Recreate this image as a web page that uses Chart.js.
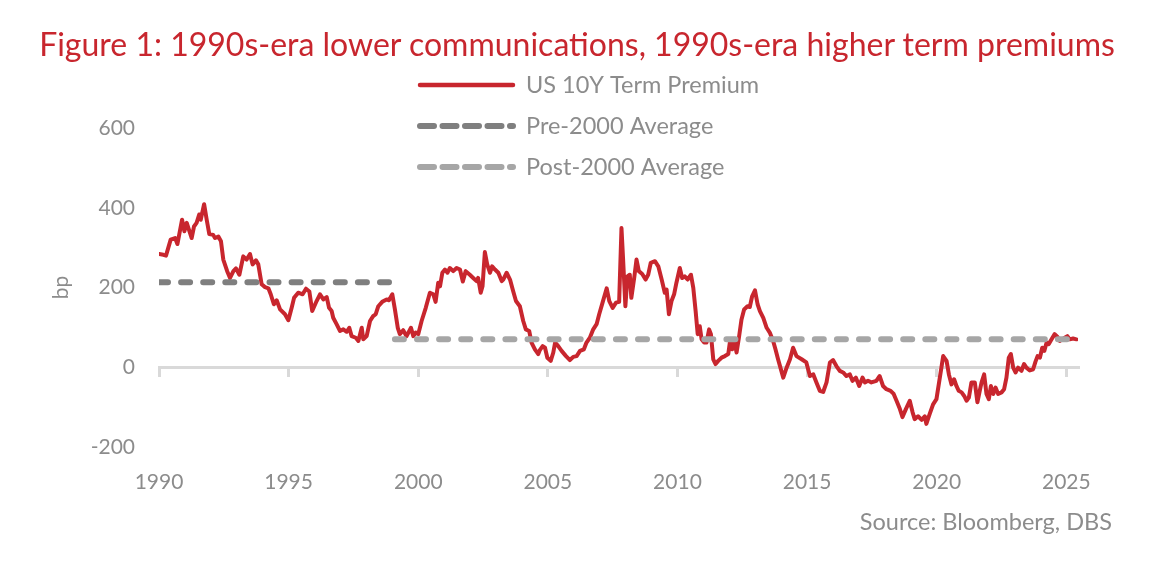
<!DOCTYPE html>
<html>
<head>
<meta charset="utf-8">
<script src="https://cdn.jsdelivr.net/npm/chart.js@4.4.1/dist/chart.umd.min.js"></script>
<style>
  body { margin: 0; background: #fff; font-family: Lato, sans-serif; }
  #wrap { position: relative; width: 1154px; height: 584px; }
  #title { position: absolute; left: 0; right: 0; top: 24px; text-align: center; color: #c8262e; font-size: 32px; white-space: nowrap; }
  #source { position: absolute; right: 42px; top: 507px; color: #8c8c8c; font-size: 23.5px; }
</style>
</head>
<body>
<div id="wrap">
  <canvas id="chart"></canvas>
  <div id="title">Figure 1: 1990s-era lower communications, 1990s-era higher term premiums</div>
  <div id="source">Source: Bloomberg, DBS</div>
</div>
<script>
// US 10Y term premium (bp), dates as decimal years
const dates = [
    1990.00, 1990.17, 1990.27, 1990.45, 1990.62, 1990.71, 1990.89, 1990.98, 1991.07, 1991.26, 1991.35, 1991.45, 1991.55, 1991.61, 1991.74, 1991.84, 1991.94,
    1992.09, 1992.16, 1992.29, 1992.39, 1992.48, 1992.63, 1992.74, 1992.87, 1992.97, 1993.10, 1993.25, 1993.38, 1993.51, 1993.61, 1993.74, 1993.83, 1993.96,
    1994.09, 1994.22, 1994.31, 1994.43, 1994.54, 1994.67, 1994.86, 1994.99, 1995.12, 1995.21, 1995.37, 1995.54, 1995.67, 1995.80, 1995.91,
    1996.08, 1996.21, 1996.34, 1996.47, 1996.56, 1996.66, 1996.72, 1996.85, 1996.98, 1997.11, 1997.24, 1997.34, 1997.43, 1997.59, 1997.69, 1997.82, 1997.88,
    1998.01, 1998.14, 1998.26, 1998.36, 1998.46, 1998.61, 1998.78, 1998.87, 1999.00, 1999.10, 1999.21, 1999.29, 1999.42, 1999.55, 1999.72, 1999.81, 1999.90,
    2000.00, 2000.13, 2000.29, 2000.45, 2000.58, 2000.67, 2000.77, 2000.84, 2000.93, 2001.03, 2001.13, 2001.22, 2001.35, 2001.48, 2001.61, 2001.72, 2001.83, 2001.99,
    2002.12, 2002.25, 2002.31, 2002.41, 2002.48, 2002.57, 2002.66, 2002.77, 2002.85, 2002.96, 2003.09, 2003.22, 2003.28, 2003.41, 2003.54, 2003.66, 2003.77, 2003.92,
    2004.05, 2004.15, 2004.28, 2004.37, 2004.50, 2004.63, 2004.69, 2004.80, 2004.89, 2004.98, 2005.11, 2005.21, 2005.28, 2005.40, 2005.53, 2005.70, 2005.85, 2005.98,
    2006.11, 2006.24, 2006.39, 2006.49, 2006.62, 2006.75, 2006.88, 2006.98, 2007.11, 2007.27, 2007.37, 2007.50, 2007.63, 2007.75, 2007.84, 2007.90, 2007.99,
    2008.07, 2008.16, 2008.22, 2008.33, 2008.42, 2008.51, 2008.64, 2008.77, 2008.87, 2008.97, 2009.13, 2009.26, 2009.39, 2009.51, 2009.58, 2009.67, 2009.77, 2009.87, 2009.96,
    2010.09, 2010.18, 2010.28, 2010.39, 2010.52, 2010.61, 2010.70, 2010.78, 2010.86, 2010.93, 2011.03, 2011.12, 2011.22, 2011.29, 2011.38, 2011.47, 2011.57, 2011.70, 2011.83, 2011.96,
    2012.02, 2012.11, 2012.19, 2012.28, 2012.37, 2012.47, 2012.57, 2012.70, 2012.79, 2012.88, 2012.99, 2013.09, 2013.18, 2013.31, 2013.44, 2013.56, 2013.69, 2013.78, 2013.88,
    2014.08, 2014.21, 2014.34, 2014.46, 2014.59, 2014.79, 2014.97, 2015.11, 2015.24, 2015.36, 2015.49, 2015.62, 2015.75, 2015.88,
    2016.00, 2016.13, 2016.26, 2016.39, 2016.52, 2016.65, 2016.75, 2016.88, 2017.01, 2017.14, 2017.23, 2017.35, 2017.48, 2017.67, 2017.80, 2017.93,
    2018.06, 2018.22, 2018.34, 2018.45, 2018.58, 2018.68, 2018.81, 2018.96, 2019.07, 2019.15, 2019.28, 2019.42, 2019.54, 2019.60, 2019.73, 2019.86, 2019.99,
    2020.12, 2020.25, 2020.38, 2020.47, 2020.57, 2020.67, 2020.76, 2020.85, 2020.96, 2021.06, 2021.15, 2021.24, 2021.34, 2021.47, 2021.57, 2021.66, 2021.73, 2021.83, 2021.92,
    2022.01, 2022.09, 2022.18, 2022.27, 2022.37, 2022.50, 2022.60, 2022.69, 2022.78, 2022.86, 2022.95, 2023.04, 2023.14, 2023.27, 2023.37, 2023.46, 2023.59, 2023.72, 2023.81, 2023.89, 2023.98,
    2024.07, 2024.15, 2024.24, 2024.32, 2024.43, 2024.55, 2024.66, 2024.75, 2024.84, 2024.94, 2025.04, 2025.13, 2025.26, 2025.39
];
const termPremium = [
    284, 282, 280, 320, 324, 309, 370, 341, 362, 324, 353, 362, 383, 370, 409, 370, 334,
    332, 324, 328, 316, 270, 241, 224, 241, 248, 232, 278, 270, 284, 258, 268, 258, 208,
    201, 198, 183, 158, 168, 145, 133, 118, 150, 174, 187, 183, 197, 190, 141,
    166, 183, 170, 176, 149, 141, 124, 108, 91, 95, 89, 99, 78, 74, 66, 99, 70,
    78, 116, 128, 133, 153, 164, 170, 168, 183, 145, 99, 83, 93, 78, 99, 78, 87,
    83, 116, 149, 187, 183, 164, 212, 203, 237, 245, 237, 249, 241, 249, 245, 215, 241, 232,
    224, 216, 224, 187, 203, 289, 258, 237, 253, 245, 237, 216, 220, 237, 220, 191, 166, 153,
    116, 95, 91, 62, 45, 33, 43, 53, 49, 24, 16, 37, 62, 53, 41, 28, 18, 26,
    28, 41, 45, 62, 74, 95, 108, 133, 162, 198, 166, 149, 162, 164, 349, 274, 153,
    228, 232, 174, 224, 270, 241, 234, 220, 232, 262, 266, 253, 220, 187, 195, 133, 166, 183, 212,
    249, 224, 228, 220, 232, 199, 141, 83, 103, 70, 62, 62, 95, 83, 20, 8, 16, 24, 28, 33,
    62, 45, 66, 37, 74, 120, 145, 153, 151, 178, 193, 158, 141, 124, 99, 87, 66, 45, 20,
    -26, -1, 20, 49, 28, 20, 12, -22, -18, -38, -59, -62, -38, 12,
    18, 3, -9, -13, -22, -18, -34, -26, -47, -26, -38, -34, -38, -34, -22, -47,
    -55, -59, -67, -84, -105, -125, -105, -84, -113, -130, -123, -132, -123, -142, -117, -93, -80,
    -26, 28, 16, -18, -43, -30, -47, -59, -63, -72, -84, -76, -38, -38, -88, -59, -38, -18, -67,
    -80, -47, -67, -51, -67, -63, -55, -26, 24, 33, -1, -13, -1, -9, 8, -1, -8, -5, 14, 28, 24,
    49, 41, 62, 58, 70, 83, 76, 66, 70, 74, 78, 70, 72, 70
];

// period averages (bp) and the span each one covers
const preAvgSpan = [1990.0, 1999.0];
const preAvg = 213;
const postAvgSpan = [1999.1, 2025.4];
const postAvg = 70;

const xTicks = [1990, 1995, 2000, 2005, 2010, 2015, 2020, 2025];
const yTicks = [-200, 0, 200, 400, 600];

const GREY_TEXT = '#8c8c8c';
const FONT = 'Lato';

// legend drawn inside the plot, one row per dataset
const insideLegend = {
    id: 'insideLegend',
    afterDraw(chart, args, opts) {
        const ctx = chart.ctx;
        ctx.save();
        ctx.font = opts.font;
        ctx.textBaseline = 'middle';
        chart.data.datasets.forEach((ds, i) => {
            const y = opts.top + i * opts.rowGap;
            ctx.beginPath();
            ctx.setLineDash(ds.legendDash || []);
            ctx.lineCap = 'round';
            ctx.lineWidth = ds.legendWidth || ds.borderWidth;
            ctx.strokeStyle = ds.borderColor;
            ctx.moveTo(opts.left, y);
            ctx.lineTo(opts.left + opts.lineLength, y);
            ctx.stroke();
            ctx.setLineDash([]);
            ctx.fillStyle = opts.color;
            ctx.fillText(ds.label, opts.left + opts.lineLength + opts.gap, y);
        });
        ctx.restore();
    }
};

const setXTicks = scale => {
    scale.ticks = xTicks.map(v => ({ value: v }));
};

new Chart(document.getElementById('chart'), {
    type: 'line',
    data: {
        datasets: [
            {
                label: 'US 10Y Term Premium',
                data: dates.map((d, i) => ({ x: d, y: termPremium[i] })),
                borderColor: '#c8262e',
                borderWidth: 4,
                legendWidth: 4.5,
                borderJoinStyle: 'round',
                borderCapStyle: 'round',
                pointRadius: 0,
                tension: 0,
                order: 2,
            },
            {
                label: 'Pre-2000 Average',
                data: preAvgSpan.map(d => ({ x: d, y: preAvg })),
                borderColor: '#7f7f7f',
                borderWidth: 6,
                borderDash: [9, 13.1],
                legendDash: [14, 8.5],
                borderCapStyle: 'round',
                pointRadius: 0,
                order: 1,
            },
            {
                label: 'Post-2000 Average',
                data: postAvgSpan.map(d => ({ x: d, y: postAvg })),
                borderColor: '#a6a6a6',
                borderWidth: 6,
                borderDash: [9, 13.1],
                legendDash: [14, 8.5],
                borderCapStyle: 'round',
                pointRadius: 0,
                order: 0,
            }
        ]
    },
    options: {
        responsive: true,
        maintainAspectRatio: false,
        animation: false,
        layout: { padding: { left: 40, right: 76, top: 128, bottom: 77 } },
        scales: {
            x: {
                type: 'linear',
                min: 1990,
                max: 2025.45,
                position: { y: 0 },
                afterBuildTicks: setXTicks,
                ticks: { display: false },
                grid: { display: true, drawOnChartArea: false, drawTicks: true, tickLength: 8, color: '#d9d9d9', lineWidth: 3 },
                border: { display: true, color: '#d9d9d9', width: 3 },
            },
            x2: {
                type: 'linear',
                min: 1990,
                max: 2025.45,
                position: 'bottom',
                afterBuildTicks: setXTicks,
                afterFit: s => { s.height = 60; },
                ticks: {
                    padding: 23,
                    color: GREY_TEXT,
                    font: { family: FONT, size: 21 },
                    maxRotation: 0,
                    autoSkip: false,
                    callback: v => String(v),
                },
                grid: { display: false, drawTicks: false },
                border: { display: false },
            },
            y: {
                min: -200,
                max: 600,
                afterBuildTicks: s => { s.ticks = yTicks.map(v => ({ value: v })); },
                afterFit: s => { s.width = 119; },
                ticks: { padding: 24, color: GREY_TEXT, font: { family: FONT, size: 21 } },
                grid: { display: false, drawTicks: false },
                border: { display: false },
                title: {
                    display: true,
                    text: 'bp',
                    color: GREY_TEXT,
                    font: { family: FONT, size: 21 },
                    padding: { top: 9, bottom: 0 },
                },
            }
        },
        plugins: {
            legend: { display: false },
            tooltip: { enabled: false },
            insideLegend: {
                left: 420,
                top: 85,
                rowGap: 41,
                lineLength: 93,
                gap: 13,
                font: '23.5px ' + FONT,
                color: GREY_TEXT,
            },
        }
    },
    plugins: [insideLegend]
});
</script>
</body>
</html>
